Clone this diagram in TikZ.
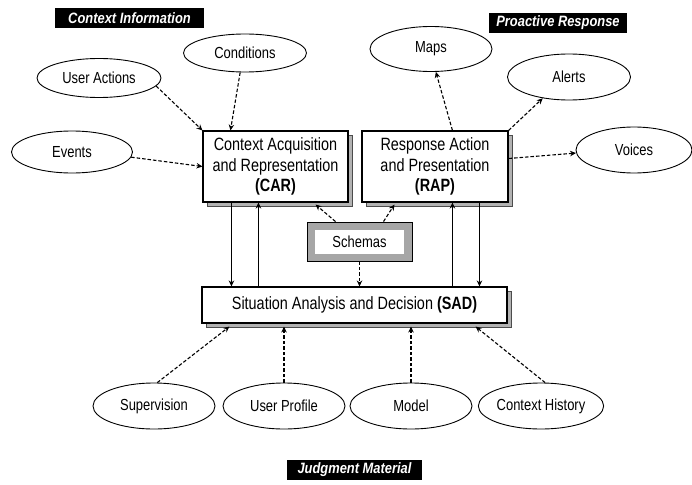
\documentclass[tikz,border=0pt]{standalone}
\usepackage{fontspec}
\setmainfont{Liberation Sans}[FakeStretch=0.81]
\newfontfamily\tagfont{Liberation Sans}[FakeStretch=0.86]
\usetikzlibrary{shapes.geometric,arrows.meta,shadows}

\begin{document}
\begin{tikzpicture}[x=1pt,y=-1pt,
  oval/.style={ellipse,draw,line width=0.9pt,minimum width=122pt,minimum height=44pt,
    inner sep=0pt,font=\fontsize{16}{18}\selectfont},
  unit/.style={draw,line width=1.1pt,fill=white,align=center,inner sep=0pt,
    font=\fontsize{17.8}{20.7}\selectfont,
    copy shadow={shadow xshift=4pt,shadow yshift=-4pt,fill=gray!60,draw=black!70,line width=0.6pt}},
  schemabox/.style={draw,line width=0.9pt,fill=gray!70,inner sep=0pt,
    minimum width=105pt,minimum height=39pt,font=\fontsize{16}{18}\selectfont,
    path picture={\fill[white] ([shift={(8pt,-8pt)}]path picture bounding box.north west)
      rectangle ([shift={(-8pt,7pt)}]path picture bounding box.south east);}},
  tag/.style={fill=black,text=white,inner sep=0pt,minimum height=20pt,
    font=\tagfont\bfseries\itshape\fontsize{15}{17}\selectfont},
  feed/.style={line width=1.1pt,dash pattern=on 3.5pt off 2pt,-{Stealth[length=6pt,width=5.5pt]}},
  flow/.style={line width=0.8pt,-{Stealth[length=6pt,width=5.5pt]}}
]
\useasboundingbox (0,0) rectangle (692,484);

% section captions
\node[tag,minimum width=149pt] (tinfo) at (129.5,18) {Context Information};
\node[tag,minimum width=138pt] (tresp) at (558,23) {Proactive Response};
\node[tag,minimum width=135pt] (tjudg) at (354.5,470) {Judgment Material};

% processing units
\node[unit,minimum width=145pt,minimum height=71pt] (car) at (275.5,166.5)
  {Context Acquisition\\and Representation\\\textbf{(CAR)}};
\node[unit,minimum width=146pt,minimum height=71pt] (rap) at (435,166.5)
  {Response Action\\and Presentation\\\textbf{(RAP)}};
\node[unit,minimum width=305pt,minimum height=36pt] (sad) at (354.5,305)
  {Situation Analysis and Decision \textbf{(SAD)}};
\node[schemabox] (sch) at (359.5,241.5) {Schemas};

% context inputs
\node[oval,minimum width=123pt,minimum height=38pt] (cond) at (245,53) {Conditions};
\node[oval,minimum width=124pt,minimum height=39pt] (ua) at (99,78) {User Actions};
\node[oval,minimum width=121pt,minimum height=42pt] (ev) at (72,152) {Events};

% responses
\node[oval,minimum width=122pt,minimum height=45pt] (maps) at (431,49) {Maps};
\node[oval,minimum width=123pt,minimum height=46pt] (alerts) at (569,77) {Alerts};
\node[oval,minimum width=116pt,minimum height=46pt] (voices) at (634,150) {Voices};

% judgment material
\node[oval,minimum height=46pt] (sup) at (154,406) {Supervision};
\node[oval,minimum height=46pt] (up) at (284,406) {User Profile};
\node[oval,minimum height=46pt] (model) at (411,406) {Model};
\node[oval,minimum width=123pt,minimum height=46pt] (ch) at (541,406) {Context History};

% inputs to CAR
\draw[feed] (ua.-8) -- (car.north west);
\draw[feed] (cond.-104) -- ([xshift=28pt]car.north west);
\draw[feed] (ev.-5) -- (car.west);

% outputs of RAP
\draw[feed] ([xshift=91pt]rap.north west) -- (maps.-78);
\draw[feed] (rap.north east) -- (alerts.-141);
\draw[feed] ([yshift=8pt]rap.east) -- (voices.-177);

% schemas feed all three units
\draw[feed] ([xshift=-24pt]sch.north) -- ([xshift=-33pt,yshift=-2pt]car.south east);
\draw[feed] ([xshift=24pt]sch.north) -- ([xshift=33pt,yshift=-2pt]rap.south west);
\draw[feed] (sch.south) -- (sch.south |- sad.north);

% exchange between units
\coordinate (cdown) at ([xshift=29pt]car.south west);
\coordinate (cup) at ([xshift=56pt]car.south west);
\coordinate (rup) at ([xshift=91pt]rap.south west);
\coordinate (rdown) at ([xshift=118pt]rap.south west);
\draw[flow] (cdown) -- (cdown |- sad.north);
\draw[flow] (cup |- sad.north) -- (cup);
\draw[flow] (rup |- sad.north) -- (rup);
\draw[flow] (rdown) -- (rdown |- sad.north);

% judgment material into SAD
\draw[feed] (sup.82) -- ([xshift=28pt,yshift=-3pt]sad.south west);
\draw[feed] (up.north) -- ([yshift=-3pt]up.north |- sad.south);
\draw[feed] (model.north) -- ([yshift=-3pt]model.north |- sad.south);
\draw[feed] (ch.80) -- ([xshift=-32pt,yshift=-3pt]sad.south east);
\end{tikzpicture}
\end{document}
